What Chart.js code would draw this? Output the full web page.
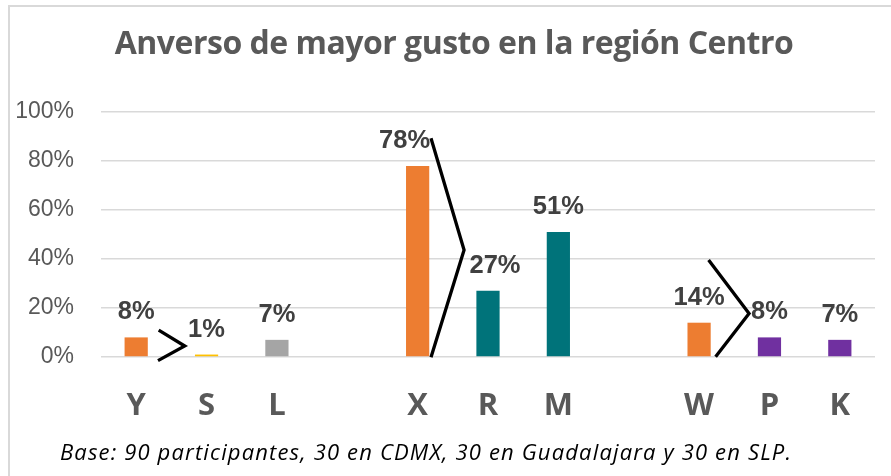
<!DOCTYPE html>
<html>
<head>
<meta charset="utf-8">
<script src="https://cdn.jsdelivr.net/npm/chart.js@4.4.1/dist/chart.umd.min.js"></script>
<style>
  html, body { margin: 0; padding: 0; background: #fff; overflow: hidden; }
  #wrap { position: relative; width: 891px; height: 476px; }
  #frame { position: absolute; left: 8px; top: 5px; width: 900px; height: 480px; border: 2px solid #d9d9d9; box-sizing: border-box; }
  canvas { position: absolute; left: 0; top: 0; }
</style>
</head>
<body>
<div id="wrap">
  <div id="frame"></div>
  <canvas id="c" width="891" height="476"></canvas>
</div>
<script>
const titleText = 'Anverso de mayor gusto en la región Centro';
const footnoteText = 'Base: 90 participantes, 30 en CDMX, 30 en Guadalajara y 30 en SLP.';
const categories = ['Y', 'S', 'L', '', 'X', 'R', 'M', '', 'W', 'P', 'K'];
const values = [8, 1, 7, null, 78, 27, 51, null, 14, 8, 7];
const barColors = ['#ED7D31', '#FFC000', '#A5A5A5', '#ffffff', '#ED7D31', '#00737A', '#00737A', '#ffffff', '#ED7D31', '#7030A0', '#7030A0'];
const yTicks = [0, 20, 40, 60, 80, 100];
// ">" comparison marks, in category-index / percent units
const chevronYS = [{x: 0.32, y: 11}, {x: 0.69, y: 4.5}, {x: 0.31, y: -1.5}];
const chevronXR = [{x: 4.19, y: 89.3}, {x: 4.66, y: 43.7}, {x: 4.19, y: -0.1}];
const chevronWP = [{x: 8.135, y: 39.6}, {x: 8.71, y: 17.8}, {x: 8.235, y: 0.1}];
const labelNudge = [0, 0, 0, 0, -13, 7, 0, 0, 0, 0, 0];

const chevronDs = (pts) => ({
  type: 'line', data: pts, xAxisID: 'xl', yAxisID: 'y',
  borderColor: '#000', borderWidth: 3.3, pointRadius: 0, fill: false,
  clip: false, tension: 0, parsing: false, order: 0
});

const textPlugin = {
  id: 'texts',
  afterDatasetsDraw(chart) {
    const ctx = chart.ctx;
    const meta = chart.getDatasetMeta(0);
    ctx.save();
    ctx.font = 'bold 25.5px "Liberation Sans", Arial, sans-serif';
    ctx.fillStyle = '#404040';
    ctx.textAlign = 'center';
    ctx.textBaseline = 'middle';
    meta.data.forEach((bar, i) => {
      if (values[i] === null) return;
      ctx.fillText(values[i] + '%', bar.x + labelNudge[i], bar.y - 25);
    });
    ctx.restore();
  },
  afterDraw(chart) {
    const ctx = chart.ctx;
    ctx.save();
    ctx.fillStyle = '#595959';
    ctx.font = 'bold 32px "Open Sans", sans-serif';
    ctx.letterSpacing = '-0.5px';
    ctx.textAlign = 'center';
    ctx.textBaseline = 'alphabetic';
    ctx.fillText(titleText, 454, 54);
    ctx.fillStyle = '#000000';
    ctx.font = 'italic 22px "Open Sans", sans-serif';
    ctx.letterSpacing = '1.15px';
    ctx.textAlign = 'left';
    ctx.fillText(footnoteText, 60, 460);
    ctx.restore();
  }
};

new Chart(document.getElementById('c'), {
  type: 'bar',
  data: {
    labels: categories,
    datasets: [
      {
        type: 'bar', data: values, backgroundColor: barColors, xAxisID: 'x', yAxisID: 'y',
        barPercentage: 0.33, categoryPercentage: 1, grouped: false, order: 1
      },
      chevronDs(chevronYS),
      chevronDs(chevronXR),
      chevronDs(chevronWP)
    ]
  },
  options: {
    responsive: false,
    animation: false,
    devicePixelRatio: 1,
    layout: { padding: { left: 0, right: 16, top: 112, bottom: 0 } },
    plugins: { legend: { display: false }, tooltip: { enabled: false }, title: { display: false } },
    scales: {
      x: {
        type: 'category',
        offset: true,
        grid: { display: false, drawTicks: false },
        border: { display: false },
        ticks: { color: '#595959', font: { family: '"Open Sans", sans-serif', size: 31, weight: 'bold' }, padding: 31, maxRotation: 0, autoSkip: false },
        afterFit(scale) { scale.height = 119; }
      },
      xl: {
        type: 'linear', display: false, min: -0.5, max: 10.5, offset: false
      },
      y: {
        min: 0, max: 100,
        afterBuildTicks(scale) { scale.ticks = yTicks.map(v => ({ value: v })); },
        grid: { color: '#d9d9d9', lineWidth: 1.5, drawTicks: false },
        border: { display: false },
        ticks: { color: '#595959', font: { family: '"Liberation Sans", Arial, sans-serif', size: 23 }, padding: 27, callback: v => v + '%' },
        afterFit(scale) { scale.width = 101; }
      }
    }
  },
  plugins: [textPlugin]
});
</script>
</body>
</html>
